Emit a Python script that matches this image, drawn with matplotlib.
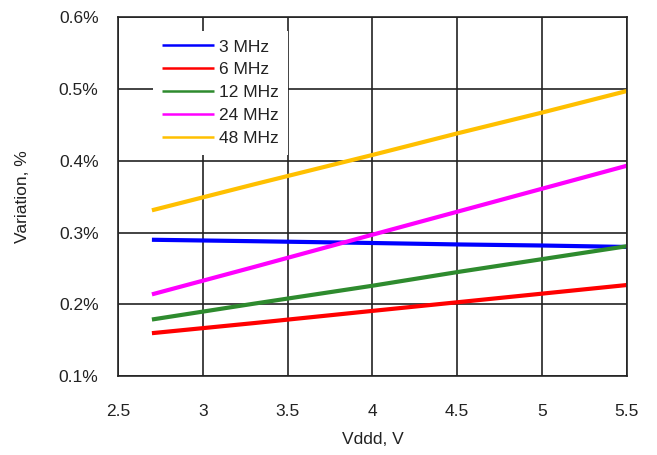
import matplotlib
matplotlib.use("Agg")
import matplotlib.pyplot as plt
from matplotlib.ticker import FuncFormatter

# supply voltage, V
vddd = [2.7, 3.3, 4.0, 4.5, 5.0, 5.5]

# variation, %
var_3mhz = [0.290, 0.288, 0.2855, 0.2835, 0.282, 0.280]
var_6mhz = [0.160, 0.174, 0.191, 0.203, 0.215, 0.227]
var_12mhz = [0.179, 0.201, 0.226, 0.245, 0.263, 0.281]
var_24mhz = [0.214, 0.252, 0.297, 0.329, 0.361, 0.393]
var_48mhz = [0.331, 0.367, 0.408, 0.438, 0.467, 0.497]

labels = ["3 MHz", "6 MHz", "12 MHz", "24 MHz", "48 MHz"]
colors = ["#0000FF", "#FF0000", "#2E8B2E", "#FF00FF", "#FFC000"]

x_ticks = [2.5, 3, 3.5, 4, 4.5, 5, 5.5]
y_ticks = [0.1, 0.2, 0.3, 0.4, 0.5, 0.6]


def main():
    plt.rcParams["font.family"] = ["Liberation Sans", "DejaVu Sans"]
    fs = 12.5
    ink = "#222222"

    fig = plt.figure(figsize=(6.57, 4.55), dpi=100)
    ax = fig.add_axes([0.1796, 0.173, 0.7744, 0.7896])

    series = [var_3mhz, var_6mhz, var_12mhz, var_24mhz, var_48mhz]
    for ys, lab, col in zip(series, labels, colors):
        ax.plot(vddd, ys, color=col, lw=3.0, label=lab, solid_capstyle="butt")

    ax.set_xlim(2.5, 5.5)
    ax.set_ylim(0.1, 0.6)
    ax.set_xticks(x_ticks)
    ax.set_yticks(y_ticks)
    ax.xaxis.set_major_formatter(FuncFormatter(lambda v, p: f"{v:g}"))
    ax.yaxis.set_major_formatter(FuncFormatter(lambda v, p: f"{v:.1f}%"))
    ax.tick_params(length=0, labelsize=fs, colors=ink)
    ax.tick_params(axis="x", pad=20)
    ax.tick_params(axis="y", pad=14)

    ax.grid(True, color=ink, lw=1.2)
    ax.set_axisbelow(True)
    for s in ax.spines.values():
        s.set_color(ink)
        s.set_linewidth(1.2)

    ax.set_xlabel("Vddd, V", fontsize=fs, color=ink)
    ax.set_ylabel("Variation, %", fontsize=fs, color=ink)
    ax.xaxis.set_label_coords(0.5, -0.155)
    ax.yaxis.set_label_coords(-0.172, 0.5)

    leg = ax.legend(loc="upper left", bbox_to_anchor=(0.069, 0.962), frameon=True,
                    fancybox=False, edgecolor="none", facecolor="white", framealpha=1,
                    handlelength=3.0, handletextpad=0.3, labelspacing=0.45,
                    borderpad=0.5, borderaxespad=0, fontsize=fs)
    for h in leg.legend_handles:
        h.set_linewidth(1.8)
    for t in leg.get_texts():
        t.set_color(ink)

    fig.savefig("out.png", dpi=100)


if __name__ == "__main__":
    main()
